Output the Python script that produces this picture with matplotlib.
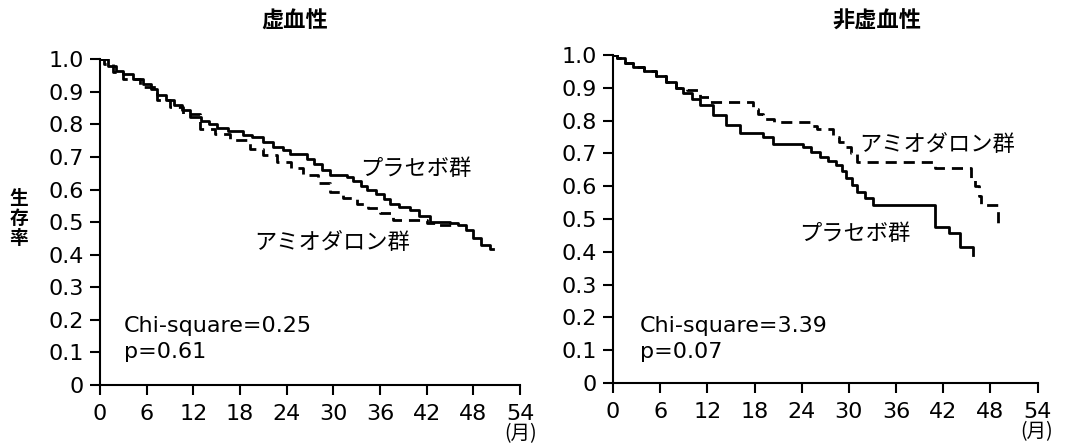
import matplotlib
matplotlib.use("Agg")
import matplotlib.pyplot as plt

plt.rcParams['font.family'] = ['DejaVu Sans', 'Noto Sans CJK JP']

# ---- data: ischemic (left) ----
isch_placebo_t = [0, 1.0, 2.0, 3.0, 4.2, 5.5, 6.5, 7.3, 8.5, 9.5, 10.5, 11.6, 13.0, 14.0, 15.0,
                  16.5, 18.4, 19.5, 21.0, 22.3, 23.5, 24.4, 26.6, 27.5, 28.5, 29.6, 31.7, 32.5,
                  33.5, 34.3, 35.5, 36.5, 37.3, 38.5, 39.8, 41.0, 42.4, 45.0, 46.0, 47.1, 48.0,
                  49.0, 50.1, 50.5]
isch_placebo_s = [1.0, 0.98, 0.965, 0.956, 0.94, 0.925, 0.91, 0.89, 0.875, 0.86, 0.845, 0.823,
                  0.81, 0.80, 0.79, 0.78, 0.767, 0.76, 0.745, 0.731, 0.72, 0.71, 0.695, 0.68,
                  0.66, 0.644, 0.639, 0.625, 0.61, 0.598, 0.585, 0.57, 0.557, 0.545, 0.537,
                  0.52, 0.501, 0.496, 0.49, 0.475, 0.45, 0.43, 0.419, 0.419]
isch_amio_t = [0, 0.5, 1.7, 3.0, 5.1, 7.3, 9.0, 10.7, 12.9, 14.8, 16.7, 19.3, 21.0, 22.7, 24.5,
               26.1, 28.0, 29.6, 31.3, 33.0, 34.5, 36.0, 37.7, 40.7, 42.0, 43.3, 45.5]
isch_amio_s = [1.0, 0.985, 0.961, 0.94, 0.915, 0.874, 0.855, 0.833, 0.787, 0.77, 0.752, 0.726,
               0.705, 0.685, 0.665, 0.644, 0.62, 0.593, 0.575, 0.557, 0.542, 0.527, 0.508,
               0.506, 0.498, 0.491, 0.489]

# ---- data: non-ischemic (right) ----
non_placebo_t = [0, 0.5, 1.5, 2.6, 4.0, 5.5, 6.8, 8.0, 8.9, 10.0, 11.1, 12.7, 14.4, 16.1, 19.1,
                 20.4, 24.2, 25.2, 26.3, 27.4, 28.4, 29.1, 29.7, 30.4, 31.0, 32.0, 33.1, 40.9,
                 42.8, 44.1, 45.8]
non_placebo_s = [1.0, 0.99, 0.975, 0.964, 0.95, 0.935, 0.919, 0.9, 0.883, 0.865, 0.848, 0.817,
                 0.787, 0.761, 0.751, 0.729, 0.718, 0.705, 0.69, 0.678, 0.665, 0.645, 0.624,
                 0.603, 0.583, 0.563, 0.543, 0.476, 0.456, 0.416, 0.39]
non_amio_t = [0, 0.5, 1.5, 2.6, 4.0, 5.5, 6.8, 8.0, 9.4, 11.1, 12.3, 17.8, 18.5, 19.1, 20.5,
              25.0, 25.9, 28.0, 28.8, 29.7, 30.3, 31.0, 40.9, 45.6, 46.0, 46.5, 46.8, 49.0]
non_amio_s = [1.0, 0.99, 0.975, 0.964, 0.95, 0.935, 0.919, 0.9, 0.893, 0.873, 0.858, 0.835,
              0.82, 0.805, 0.795, 0.785, 0.773, 0.75, 0.735, 0.72, 0.70, 0.675, 0.655, 0.62,
              0.60, 0.57, 0.543, 0.482]

x_ticks = [0, 6, 12, 18, 24, 30, 36, 42, 48, 54]
y_ticks = [0, 0.1, 0.2, 0.3, 0.4, 0.5, 0.6, 0.7, 0.8, 0.9, 1.0]
y_ticklabels = ['0', '0.1', '0.2', '0.3', '0.4', '0.5', '0.6', '0.7', '0.8', '0.9', '1.0']

titles = ['虚血性', '非虚血性']
placebo_label = 'プラセボ群'
amio_label = 'アミオダロン群'
chi_lines = ['Chi-square=0.25', 'Chi-square=3.39']
p_lines = ['p=0.61', 'p=0.07']
ylabel_chars = ['生', '存', '率']
unit_text = '(月)'

W, H = 1066, 445
fig = plt.figure(figsize=(W / 100, H / 100), dpi=100)

def px(x0, y_top, x1, y_bot):
    return [x0 / W, 1 - y_bot / H, (x1 - x0) / W, (y_bot - y_top) / H]

ax1 = fig.add_axes(px(100, 59.3, 520, 385))
ax2 = fig.add_axes(px(613, 55, 1037.5, 383))

FS = 16
CJK = ['Noto Sans CJK JP', 'DejaVu Sans']

for ax in (ax1, ax2):
    ax.set_xlim(0, 54)
    ax.set_ylim(0, 1.0)
    for sp in ('top', 'right'):
        ax.spines[sp].set_visible(False)
    for sp in ('left', 'bottom'):
        ax.spines[sp].set_linewidth(1.5)
    ax.set_xticks(x_ticks)
    ax.set_xticklabels([str(v) for v in x_ticks])
    ax.set_yticks(y_ticks)
    ax.set_yticklabels(y_ticklabels)
    ax.tick_params(direction='out', length=7.5, width=1.5, labelsize=FS)
    ax.tick_params(axis='y', pad=4)
    ax.tick_params(axis='x', pad=6)
    ax.patch.set_alpha(0)

ax1.step(isch_placebo_t, isch_placebo_s, where='post', color='black', lw=2.0)
ax1.step(isch_amio_t, isch_amio_s, where='post', color='black', lw=2.0,
         linestyle=(0, (4, 2.5)))
ax2.step(non_placebo_t, non_placebo_s, where='post', color='black', lw=2.0)
ax2.step(non_amio_t, non_amio_s, where='post', color='black', lw=2.0,
         linestyle=(0, (4, 2.5)))

# labels inside plots
ax1.text(40.6, 0.666, placebo_label, fontsize=FS, ha='center', va='center', family=CJK)
ax1.text(29.9, 0.436, amio_label, fontsize=FS, ha='center', va='center', family=CJK)
ax1.text(3.08, 0.163, chi_lines[0], fontsize=FS, ha='left', va='baseline')
ax1.text(3.08, 0.083, p_lines[0], fontsize=FS, ha='left', va='baseline')

ax2.text(41.2, 0.726, amio_label, fontsize=FS, ha='center', va='center', family=CJK)
ax2.text(30.7, 0.457, placebo_label, fontsize=FS, ha='center', va='center', family=CJK)
ax2.text(3.43, 0.155, chi_lines[1], fontsize=FS, ha='left', va='baseline')
ax2.text(3.43, 0.076, p_lines[1], fontsize=FS, ha='left', va='baseline')

# titles
fig.text(295 / W, 1 - 21 / H, titles[0], fontsize=FS, ha='center', va='center',
         fontweight='bold', family=CJK)
fig.text(877 / W, 1 - 21 / H, titles[1], fontsize=FS, ha='center', va='center',
         fontweight='bold', family=CJK)

# y label (vertical stacked characters)
for i, ch in enumerate(ylabel_chars):
    fig.text(19 / W, 1 - (199 + 20 * i) / H, ch, fontsize=13.5, ha='center', va='center',
             fontweight='bold', family=CJK)

# month unit
fig.text(521 / W, 1 - 434 / H, unit_text, fontsize=14, ha='center', va='center', family=CJK)
fig.text(1037 / W, 1 - 432 / H, unit_text, fontsize=14, ha='center', va='center', family=CJK)

fig.savefig('out.png', dpi=100, facecolor='white')
